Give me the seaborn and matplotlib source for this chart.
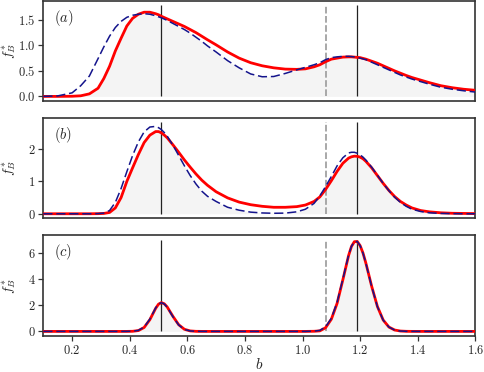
import matplotlib
matplotlib.use("Agg")
import matplotlib.pyplot as plt
import numpy as np
import seaborn as sns

# grid of b values
b = [0.10, 0.15, 0.20, 0.23, 0.26, 0.29, 0.31, 0.33, 0.35, 0.37,
     0.39, 0.41, 0.43, 0.45, 0.47, 0.49, 0.50, 0.51, 0.52, 0.53,
     0.55, 0.57, 0.59, 0.61, 0.63, 0.65, 0.67, 0.70, 0.74, 0.78,
     0.82, 0.86, 0.90, 0.94, 0.98, 1.01, 1.04, 1.06, 1.08, 1.10,
     1.12, 1.14, 1.16, 1.17, 1.18, 1.19, 1.20, 1.21, 1.22, 1.24,
     1.26, 1.28, 1.30, 1.32, 1.34, 1.36, 1.38, 1.41, 1.44, 1.48,
     1.52, 1.56, 1.60]

# panel (a)
red_a = [0.0, 0.0, 0.003, 0.012, 0.05, 0.16, 0.35, 0.59, 0.89, 1.14,
         1.38, 1.53, 1.61, 1.65, 1.65, 1.62, 1.60, 1.57, 1.545, 1.52,
         1.47, 1.42, 1.37, 1.31, 1.25, 1.18, 1.11, 1.01, 0.87, 0.75,
         0.66, 0.60, 0.56, 0.535, 0.53, 0.54, 0.58, 0.62, 0.68, 0.73,
         0.75, 0.77, 0.775, 0.775, 0.77, 0.765, 0.76, 0.745, 0.73, 0.69,
         0.65, 0.60, 0.55, 0.50, 0.455, 0.41, 0.37, 0.32, 0.27, 0.21,
         0.17, 0.14, 0.12]
blue_a = [0.0, 0.01, 0.07, 0.21, 0.40, 0.74, 0.97, 1.18, 1.35, 1.47,
          1.55, 1.59, 1.61, 1.62, 1.61, 1.58, 1.56, 1.54, 1.515, 1.49,
          1.43, 1.37, 1.31, 1.24, 1.16, 1.08, 0.99, 0.87, 0.70, 0.56,
          0.44, 0.385, 0.39, 0.45, 0.52, 0.57, 0.62, 0.66, 0.72, 0.76,
          0.775, 0.785, 0.785, 0.78, 0.775, 0.765, 0.75, 0.735, 0.72, 0.67,
          0.62, 0.57, 0.52, 0.47, 0.42, 0.38, 0.34, 0.29, 0.24, 0.18,
          0.14, 0.11, 0.085]

# panel (b)
red_b = [0.0, 0.0, 0.0, 0.0, 0.0, 0.003, 0.01, 0.04, 0.18, 0.50,
         1.00, 1.42, 1.83, 2.20, 2.43, 2.54, 2.54, 2.50, 2.43, 2.35,
         2.13, 1.90, 1.66, 1.44, 1.23, 1.04, 0.88, 0.68, 0.49, 0.36,
         0.28, 0.23, 0.20, 0.20, 0.22, 0.27, 0.38, 0.52, 0.75, 1.02,
         1.31, 1.56, 1.72, 1.76, 1.78, 1.775, 1.75, 1.70, 1.62, 1.42,
         1.18, 0.94, 0.72, 0.53, 0.38, 0.27, 0.18, 0.10, 0.06, 0.03,
         0.015, 0.01, 0.005]
blue_b = [0.0, 0.0, 0.0, 0.0, 0.0, 0.005, 0.02, 0.10, 0.35, 0.78,
          1.30, 1.80, 2.22, 2.53, 2.68, 2.70, 2.66, 2.60, 2.51, 2.40,
          2.12, 1.80, 1.48, 1.18, 0.92, 0.70, 0.54, 0.38, 0.20, 0.11,
          0.05, 0.025, 0.015, 0.02, 0.06, 0.14, 0.32, 0.55, 0.84, 1.15,
          1.48, 1.73, 1.88, 1.90, 1.90, 1.87, 1.82, 1.75, 1.66, 1.44,
          1.19, 0.94, 0.71, 0.51, 0.35, 0.23, 0.14, 0.07, 0.03, 0.01,
          0.005, 0.0, 0.0]

# panel (c)
red_c = [0.0, 0.0, 0.0, 0.0, 0.0, 0.0, 0.0, 0.0, 0.0, 0.0,
         0.001, 0.009, 0.063, 0.30, 0.90, 1.76, 2.08, 2.20, 2.11, 1.87,
         1.15, 0.51, 0.16, 0.037, 0.006, 0.001, 0.0, 0.0, 0.0, 0.0,
         0.0, 0.0, 0.0, 0.0, 0.0, 0.0, 0.01, 0.04, 0.28, 0.93,
         2.14, 3.94, 5.80, 6.49, 6.85, 6.86, 6.55, 5.98, 5.21, 3.45,
         1.90, 0.87, 0.33, 0.106, 0.028, 0.007, 0.002, 0.0, 0.0, 0.0,
         0.0, 0.0, 0.0]
blue_c = [0.0, 0.0, 0.0, 0.0, 0.0, 0.0, 0.0, 0.0, 0.0, 0.0,
          0.002, 0.015, 0.08, 0.33, 0.94, 1.79, 2.09, 2.19, 2.09, 1.85,
          1.12, 0.49, 0.15, 0.035, 0.006, 0.001, 0.0, 0.0, 0.0, 0.0,
          0.0, 0.0, 0.0, 0.0, 0.0, 0.0, 0.02, 0.08, 0.34, 1.00,
          2.22, 4.00, 5.83, 6.50, 6.86, 6.86, 6.55, 5.97, 5.20, 3.43,
          1.89, 0.86, 0.33, 0.10, 0.027, 0.007, 0.002, 0.0, 0.0, 0.0,
          0.0, 0.0, 0.0]

peak_b = [0.51, 1.188]
threshold_b = 1.08
panel_labels = ["(a)", "(b)", "(c)"]
vline_heights = [1.79, 2.83, 7.0]
ylims = [(-0.09, 1.86), (-0.14, 2.95), (-0.35, 7.36)]
yticks = [[0.0, 0.5, 1.0, 1.5], [0, 1, 2], [0, 2, 4, 6]]

sns.set_style("ticks")
plt.rcParams["font.family"] = ["cmr10", "DejaVu Serif"]
plt.rcParams["mathtext.fontset"] = "cm"
plt.rcParams["axes.formatter.use_mathtext"] = True
plt.rcParams["font.size"] = 9

fig = plt.figure(figsize=(4.84, 3.72), dpi=100)
positions = [[0.0895, 0.7285, 0.8926, 0.2675],
             [0.0895, 0.4132, 0.8926, 0.2688],
             [0.0895, 0.0968, 0.8926, 0.2715]]

series = [(red_a, blue_a), (red_b, blue_b), (red_c, blue_c)]
for i, (red, blue) in enumerate(series):
    ax = fig.add_axes(positions[i])
    # shaded area under the lower of the two curves
    ax.fill_between(b, 0, np.minimum(red, blue), color="#f4f4f4", lw=0, zorder=0)
    ax.vlines(peak_b, 0, vline_heights[i], color="#222222", lw=0.9, zorder=1)
    ax.vlines(threshold_b, 0, vline_heights[i], color="#9a9a9a", lw=1.2,
              linestyles=(0, (4, 1.5)), zorder=1)
    sns.lineplot(x=b, y=red, ax=ax, color="red", lw=2.0, zorder=3)
    sns.lineplot(x=b, y=blue, ax=ax, color="#14148c", lw=1.1,
                 linestyle=(0, (6, 2.5)), zorder=4)
    ax.set_xlim(0.1, 1.6)
    ax.set_ylim(*ylims[i])
    ax.set_yticks(yticks[i])
    ax.set_ylabel("$f_B^*$", fontsize=10)
    ax.yaxis.set_label_coords(-0.058, 0.5)
    ax.text(0.025, 0.93, "$" + panel_labels[i] + "$", transform=ax.transAxes,
            ha="left", va="top", fontsize=10.5)
    for s in ax.spines.values():
        s.set_color("#333333")
        s.set_linewidth(1.2)
    ax.tick_params(axis="both", direction="out", length=3.5, width=0.9,
                   color="#333333", labelsize=9, pad=2)
    if i < 2:
        ax.set_xticks([])
    else:
        ax.set_xticks([0.2, 0.4, 0.6, 0.8, 1.0, 1.2, 1.4, 1.6])
        ax.set_xlabel("$b$", fontsize=11, labelpad=0)

fig.savefig("out.png", dpi=100)
